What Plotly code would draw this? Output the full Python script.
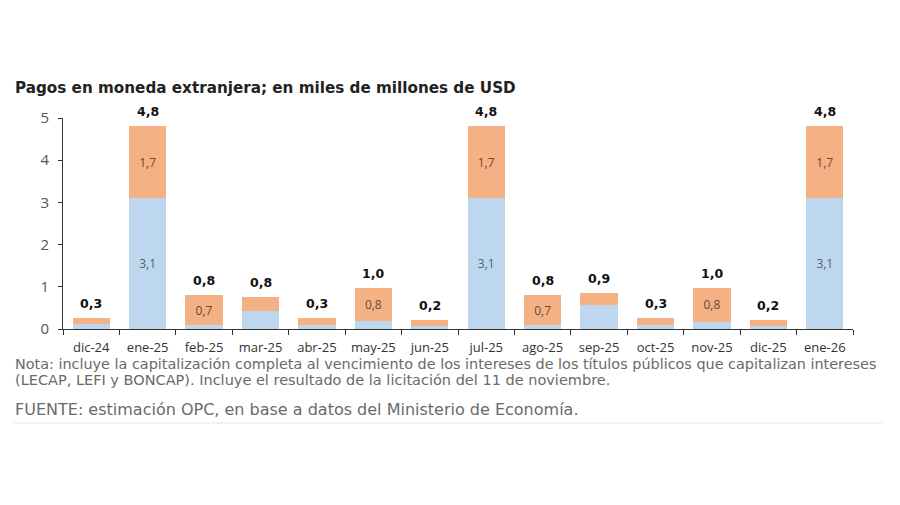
import plotly.graph_objects as go

categories = ["dic-24", "ene-25", "feb-25", "mar-25", "abr-25", "may-25", "jun-25",
              "jul-25", "ago-25", "sep-25", "oct-25", "nov-25", "dic-25", "ene-26"]
blue_vals = [0.12, 3.1, 0.1, 0.43, 0.1, 0.18, 0.07, 3.1, 0.1, 0.56, 0.1, 0.17, 0.07, 3.1]
orange_vals = [0.15, 1.7, 0.7, 0.32, 0.16, 0.8, 0.15, 1.7, 0.7, 0.3, 0.16, 0.8, 0.14, 1.7]
blue_labeled = [False, True, False, False, False, False, False, True, False, False, False, False, False, True]
orange_labeled = [False, True, True, False, False, True, False, True, True, False, False, True, False, True]
y_ticks = [0, 1, 2, 3, 4, 5]

def fmt(v):
    return f"{v:.1f}".replace(".", ",")

totals = [b + o for b, o in zip(blue_vals, orange_vals)]

BLUE = "#BDD7EE"
ORANGE = "#F4B183"
FONT = "Open Sans"
WIDE = "DejaVu Sans"

# plot area in pixels
L, R, T, B = 63, 853, 118, 329
W, H = 900, 505

fig = go.Figure()
fig.add_trace(go.Bar(
    x=categories, y=blue_vals, marker_color=BLUE, marker_line_width=0,
    text=[fmt(v) if s else "" for v, s in zip(blue_vals, blue_labeled)],
    textposition="inside", insidetextanchor="middle", constraintext="none",
    textfont=dict(family=FONT, size=12, color="#4F6277"), hoverinfo="skip",
))
fig.add_trace(go.Bar(
    x=categories, y=orange_vals, marker_color=ORANGE, marker_line_width=0,
    text=[fmt(v) if s else "" for v, s in zip(orange_vals, orange_labeled)],
    textposition="inside", insidetextanchor="middle", constraintext="none",
    textfont=dict(family=FONT, size=12, color="#6B4A33"), hoverinfo="skip",
))

for c, t in zip(categories, totals):
    fig.add_annotation(x=c, y=t, text=f"<b>{fmt(t)}</b>", showarrow=False,
                       yanchor="bottom", yshift=5, font=dict(family=WIDE, size=12.5, color="#111"))

def px(x):
    return (x - L) / (R - L)

def py(y):
    return (B - y) / (B - T)

fig.add_annotation(xref="paper", yref="paper", x=px(13), y=py(88), xanchor="left", yanchor="middle",
                   text="<b>Pagos en moneda extranjera; en miles de millones de USD</b>", showarrow=False,
                   font=dict(family=WIDE, size=15.2, color="#222"))
fig.add_annotation(xref="paper", yref="paper", x=px(13), y=py(364), xanchor="left", yanchor="middle",
                   text="Nota: incluye la capitalización completa al vencimiento de los intereses de los títulos públicos que capitalizan intereses",
                   showarrow=False, font=dict(family=WIDE, size=14.4, color="#6a6a6a"))
fig.add_annotation(xref="paper", yref="paper", x=px(13), y=py(380), xanchor="left", yanchor="middle",
                   text="(LECAP, LEFI y BONCAP). Incluye el resultado de la licitación del 11 de noviembre.",
                   showarrow=False, font=dict(family=WIDE, size=14.5, color="#6a6a6a"))
fig.add_annotation(xref="paper", yref="paper", x=px(13), y=py(409), xanchor="left", yanchor="middle",
                   text="FUENTE: estimación OPC, en base a datos del Ministerio de Economía.",
                   showarrow=False, font=dict(family=WIDE, size=16, color="#6a6a6a"))
fig.add_shape(type="line", xref="paper", yref="paper", x0=px(14), x1=px(882), y0=py(423), y1=py(423),
              line=dict(color="#E6E6E6", width=1))

fig.update_layout(
    barmode="stack", bargap=0.34, showlegend=False,
    width=W, height=H, margin=dict(l=L, r=W - R, t=T, b=H - B),
    paper_bgcolor="white", plot_bgcolor="white",
    font=dict(family=FONT),
)
fig.update_xaxes(type="category", showline=True, linecolor="#333", linewidth=1,
                 ticks="outside", tickson="boundaries", ticklen=5, tickcolor="#333",
                 ticklabelstandoff=6,
                 tickfont=dict(family=FONT, size=13, color="#333"), showgrid=False)
fig.update_yaxes(range=[0, 5], tickvals=y_ticks, showline=True, linecolor="#333", linewidth=1,
                 ticks="outside", ticklen=4, tickcolor="#333", showgrid=False, zeroline=False,
                 ticklabelstandoff=6,
                 tickfont=dict(family=FONT, size=15, color="#555"))

fig.write_html("out.html")
